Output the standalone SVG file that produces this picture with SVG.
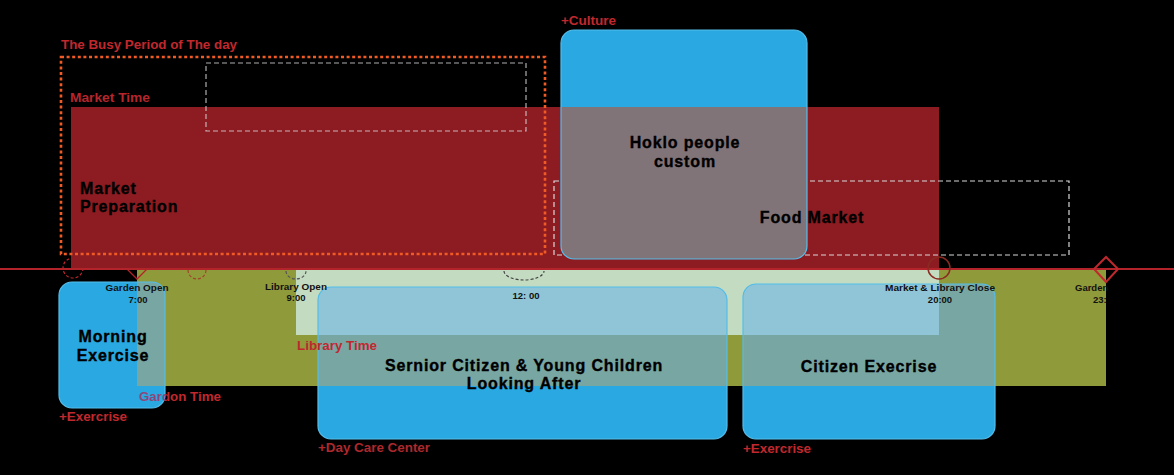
<svg xmlns="http://www.w3.org/2000/svg" width="1174" height="475" viewBox="0 0 1174 475">
<style>
.lbl{font-family:"Liberation Sans Narrow","Liberation Sans",Arial,sans-serif;font-weight:bold;font-size:13px;fill:#c0282e}
.node{font-family:"Liberation Sans",Arial,sans-serif;font-weight:bold;font-size:16px;letter-spacing:0.85px;fill:#000;stroke:#000;stroke-width:0.35;text-anchor:middle}
.tl{font-family:"Liberation Sans",Arial,sans-serif;font-weight:bold;font-size:9.5px;fill:#111;text-anchor:middle}
.blue{fill:#29a8e2}
.edge{fill:none;stroke:#55bdea;stroke-width:1.2}
.ovOlive{fill:#78a6a2}
.ovLib{fill:#8fc5d6}
.ovRed{fill:#807478}
.dashW{fill:none;stroke:#d8d8d8;stroke-width:1.2;stroke-dasharray:5 3}
.mk{fill:none;stroke-width:1.2;stroke-dasharray:3 2}
</style>
<defs>
<clipPath id="cp-hoklo"><rect x="561" y="30" width="246" height="229" rx="13"/></clipPath>
<clipPath id="cp-morning"><rect x="59" y="282" width="106" height="126" rx="13"/></clipPath>
<clipPath id="cp-senior"><rect x="318" y="287" width="409" height="152" rx="13"/></clipPath>
<clipPath id="cp-citizen"><rect x="743" y="284" width="252" height="155" rx="13"/></clipPath>
<linearGradient id="gGarden" gradientUnits="userSpaceOnUse" x1="139" y1="0" x2="221" y2="0">
<stop offset="0" stop-color="#8e4678"/><stop offset="0.317" stop-color="#8e4678"/><stop offset="0.317" stop-color="#c0282e"/><stop offset="1" stop-color="#c0282e"/>
</linearGradient>
</defs>
<rect x="0" y="0" width="1174" height="475" fill="#000"/>

<g id="periods">
<circle class="mk" cx="73" cy="268" r="10" stroke="#c0282e"/>
<rect id="market-time" x="71" y="107" width="868" height="162" fill="#8c1c22"/>
<rect class="dashW" x="206" y="63" width="320" height="68" opacity="0.8"/>
<rect class="dashW" x="554" y="181" width="515" height="74"/>
<rect id="busy-period" x="61" y="57" width="484" height="197" fill="none" stroke="#f05a24" stroke-width="2.6" stroke-dasharray="3 2.6"/>
<rect id="garden-time" x="137" y="270" width="969" height="116" fill="#8f9a3b"/>
<rect id="library-time" x="296" y="270" width="643" height="65" fill="#c3dcc1"/>
</g>

<g id="connectors">
<line x1="0" y1="269" x2="1174" y2="269" stroke="#b3232a" stroke-width="2"/>
<path d="M127,269 L137,279 L147,269" fill="none" stroke="#b3232a" stroke-width="1.3"/>
<path class="mk" d="M188,270 A9,9 0 0 0 206,270" stroke="#a0452a"/>
<path class="mk" d="M286,271 A10,8 0 0 0 306,271" stroke="#555"/>
<path class="mk" d="M504,271 A20,9 0 0 0 544,271" stroke="#444"/>
<circle cx="939" cy="268" r="11" fill="none" stroke="#8a2a22" stroke-width="1.5"/>
<path d="M1106,257 L1118,269 L1106,282 L1094,269 Z" fill="none" stroke="#c0282e" stroke-width="2"/>
</g>

<g id="node-hoklo">
<rect class="blue" x="561" y="30" width="246" height="229" rx="13"/>
<g clip-path="url(#cp-hoklo)"><rect class="ovRed" x="71" y="107" width="868" height="162"/></g>
<rect class="edge" x="561" y="30" width="246" height="229" rx="13"/>
<text class="node" x="685" y="148">Hoklo people</text>
<text class="node" x="685" y="167">custom</text>
</g>

<g id="node-food-market">
<text class="node" x="812" y="223">Food Market</text>
</g>

<g id="node-market-prep">
<text class="node" x="80" y="194" style="text-anchor:start">Market</text>
<text class="node" x="80" y="212" style="text-anchor:start">Preparation</text>
</g>

<g id="node-morning">
<rect class="blue" x="59" y="282" width="106" height="126" rx="13"/>
<g clip-path="url(#cp-morning)"><rect class="ovOlive" x="137" y="270" width="969" height="116"/></g>
<rect class="edge" x="59" y="282" width="106" height="126" rx="13"/>
<text class="node" x="113" y="342">Morning</text>
<text class="node" x="113" y="361">Exercise</text>
</g>

<g id="node-senior">
<rect class="blue" x="318" y="287" width="409" height="152" rx="13"/>
<g clip-path="url(#cp-senior)">
<rect class="ovOlive" x="137" y="270" width="969" height="116"/>
<rect class="ovLib" x="296" y="270" width="643" height="65"/>
</g>
<rect class="edge" x="318" y="287" width="409" height="152" rx="13"/>
<text class="node" x="524" y="371">Sernior Citizen &amp; Young Children</text>
<text class="node" x="524" y="389">Looking After</text>
</g>

<g id="node-citizen">
<rect class="blue" x="743" y="284" width="252" height="155" rx="13"/>
<g clip-path="url(#cp-citizen)">
<rect class="ovOlive" x="137" y="270" width="969" height="116"/>
<rect class="ovLib" x="296" y="270" width="643" height="65"/>
</g>
<rect class="edge" x="743" y="284" width="252" height="155" rx="13"/>
<text class="node" x="869" y="372">Citizen Execrise</text>
</g>

<g id="labels">
<text class="lbl" x="61" y="49" textLength="176" lengthAdjust="spacingAndGlyphs">The Busy Period of The day</text>
<text class="lbl" x="70" y="102" textLength="80" lengthAdjust="spacingAndGlyphs" style="font-size:12.5px;fill:#b5252c">Market Time</text>
<text class="lbl" x="561" y="25" textLength="55" lengthAdjust="spacingAndGlyphs">+Culture</text>
<text class="lbl" x="59" y="421" textLength="68" lengthAdjust="spacingAndGlyphs">+Exercrise</text>
<text class="lbl" x="139" y="401" textLength="82" lengthAdjust="spacingAndGlyphs" style="fill:url(#gGarden)">Gardon Time</text>
<text class="lbl" x="297" y="350" textLength="80" lengthAdjust="spacingAndGlyphs">Library Time</text>
<text class="lbl" x="318" y="452" textLength="112" lengthAdjust="spacingAndGlyphs" style="fill:#ad282d">+Day Care Center</text>
<text class="lbl" x="743" y="453" textLength="68" lengthAdjust="spacingAndGlyphs">+Exercrise</text>
</g>

<g id="timeline-labels">
<text class="tl" x="137" y="291" textLength="63" lengthAdjust="spacingAndGlyphs">Garden Open</text>
<text class="tl" x="138" y="302.5">7:00</text>
<text class="tl" x="296" y="289.5" textLength="62" lengthAdjust="spacingAndGlyphs">Library Open</text>
<text class="tl" x="296" y="301">9:00</text>
<text class="tl" x="526" y="299">12: 00</text>
<text class="tl" x="940" y="291" textLength="110" lengthAdjust="spacingAndGlyphs">Market &amp; Library Close</text>
<text class="tl" x="940" y="302.5">20:00</text>
<text class="tl" x="1075" y="291" style="text-anchor:start">Garden</text>
<text class="tl" x="1093" y="302.5" style="text-anchor:start">23:</text>
</g>
</svg>
